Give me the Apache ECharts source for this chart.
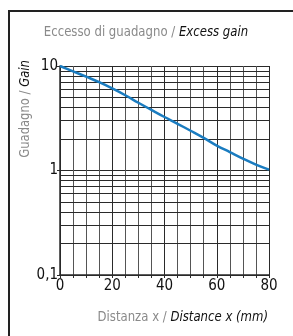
<!DOCTYPE html>
<html>
<head>
<meta charset="utf-8">
<script src="https://cdn.jsdelivr.net/npm/echarts@6/dist/echarts.min.js"></script>
<style>
    html, body { margin: 0; padding: 0; background: #fff; }
    #chart { width: 293px; height: 336px; }
</style>
</head>
<body>
<div id="chart"></div>
<script>
// distanza x (mm)
let distance = [0, 5, 10, 15, 20, 25, 30, 35, 40, 45, 50, 55, 60, 65, 70, 75, 80];
// guadagno
let gain = [10, 8.9, 7.9, 7.0, 6.1, 5.25, 4.45, 3.8, 3.25, 2.8, 2.4, 2.05, 1.73, 1.5, 1.3, 1.14, 1.02];
// linee orizzontali intermedie della griglia log
let logGrid = [0.2, 0.3, 0.4, 0.5, 0.6, 0.7, 0.8, 0.9, 2, 3, 4, 5, 6, 7, 8, 9];

let FONT = "'Liberation Sans Narrow', 'DejaVu Sans Condensed', sans-serif";
let GRID_COLOR = '#2a2a2a';

// testo su due colori: parte italiana grigia, parte inglese corsiva nera
function twoTone(it, en) {
    return {
        text: '{a|' + it + '}{b|' + en + '}',
        rich: {
            a: { fontFamily: FONT, fontSize: 14, fill: '#8a8a8a' },
            b: { fontFamily: FONT, fontSize: 14, fill: '#111', fontStyle: 'italic' },
        },
    };
}

let domObj = document.getElementById('chart');
let chart = echarts.init(domObj);

let titleStyle = twoTone('Eccesso di guadagno / ', 'Excess gain');
titleStyle.align = 'center';
titleStyle.verticalAlign = 'middle';

let yNameStyle = twoTone('Guadagno / ', 'Gain');
yNameStyle.align = 'center';
yNameStyle.verticalAlign = 'middle';

let xNameStyle = twoTone('Distanza x / ', 'Distance x (mm)');
xNameStyle.align = 'right';
xNameStyle.verticalAlign = 'middle';

let curOpts = {
    animation: false,
    grid: {
        left: 60,
        top: 66,
        right: 24,
        bottom: 61,
    },
    graphic: [
        {
            type: 'rect',
            shape: { x: 9, y: 11, width: 320, height: 360 },
            style: { fill: 'none', stroke: '#222', lineWidth: 2 },
            silent: true,
        },
        {
            type: 'text',
            x: 146,
            y: 32,
            scaleX: 0.93,
            style: titleStyle,
        },
        {
            type: 'text',
            x: 25,
            y: 109,
            rotation: Math.PI / 2,
            scaleX: 0.92,
            style: yNameStyle,
        },
        {
            type: 'text',
            x: 268,
            y: 317,
            scaleX: 0.93,
            style: xNameStyle,
        },
    ],
    xAxis: {
        type: 'value',
        min: 0,
        max: 80,
        interval: 20,
        axisLine: { show: true, onZero: false, lineStyle: { color: GRID_COLOR, width: 1.5 } },
        axisTick: { show: true, length: 3, lineStyle: { color: GRID_COLOR } },
        minorTick: { show: true, splitNumber: 4, length: 3, lineStyle: { color: GRID_COLOR } },
        axisLabel: { color: '#111', fontFamily: FONT, fontSize: 15, margin: 4 },
        splitLine: { show: true, lineStyle: { color: GRID_COLOR, width: 1 } },
        minorSplitLine: { show: true, lineStyle: { color: '#555', width: 1 } },
    },
    yAxis: {
        type: 'log',
        logBase: 10,
        min: 0.1,
        max: 10,
        axisLine: { show: true, lineStyle: { color: GRID_COLOR, width: 1.5 } },
        axisTick: { show: true, length: 3, lineStyle: { color: GRID_COLOR } },
        axisLabel: {
            color: '#111',
            fontFamily: FONT,
            fontSize: 15,
            margin: 2,
            formatter: function (v) {
                return String(v).replace('.', ',');
            },
        },
        splitLine: { show: true, lineStyle: { color: GRID_COLOR, width: 1 } },
    },
    series: [
        {
            name: 'logGrid',
            type: 'line',
            data: [],
            silent: true,
            markLine: {
                silent: true,
                symbol: 'none',
                animation: false,
                label: { show: false },
                lineStyle: { color: GRID_COLOR, width: 1, type: 'solid' },
                data: logGrid.map(function (v) {
                    return { yAxis: v };
                }),
            },
            z: 1,
        },
        {
            name: 'gain',
            type: 'line',
            smooth: 0.4,
            symbol: 'none',
            data: distance.map(function (d, i) {
                return [d, gain[i]];
            }),
            lineStyle: { color: '#1a7cc0', width: 2.5 },
            z: 5,
        },
    ],
};

chart.setOption(curOpts, true);
</script>
</body>
</html>
